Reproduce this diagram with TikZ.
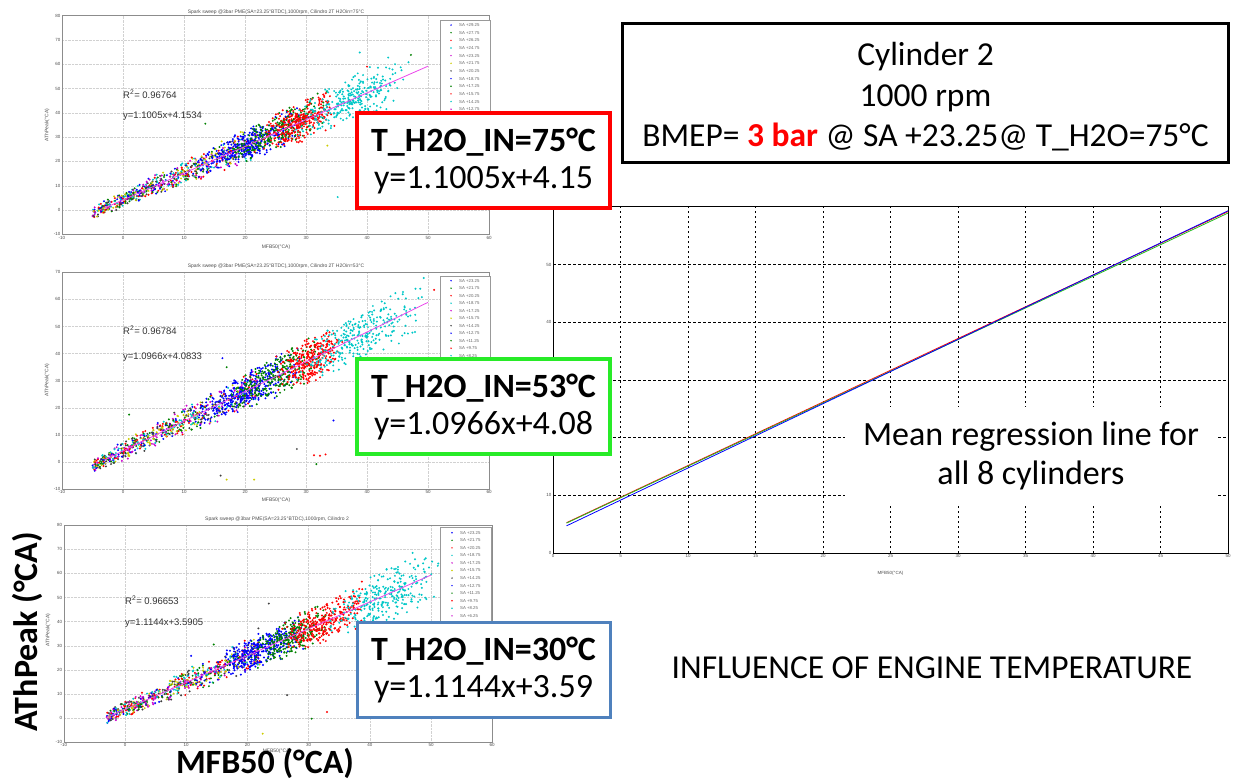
\documentclass[tikz,border=0pt]{standalone}
\usepackage{fontspec}
\setmainfont{Carlito}
\newfontfamily\plotfont{Liberation Sans}
\definecolor{mblue}{rgb}{0,0,1}
\definecolor{mgreen}{rgb}{0,0.5,0}
\definecolor{mred}{rgb}{1,0,0}
\definecolor{mcyan}{rgb}{0,0.78,0.78}
\definecolor{mmag}{rgb}{0.8,0,0.8}
\definecolor{myel}{rgb}{0.8,0.8,0}
\definecolor{mblack}{rgb}{0.25,0.25,0.25}
\definecolor{fitmag}{RGB}{235,70,235}
\definecolor{tred}{RGB}{255,0,0}
\definecolor{tgreen}{RGB}{40,235,40}
\definecolor{tblue}{RGB}{79,129,189}

\begin{document}
\begin{tikzpicture}[x=1pt,y=-1pt,
  axisframe/.style={draw=black!45,line width=0.6pt},
  smallgrid/.style={draw=black!18,line width=0.4pt,densely dotted},
  biggrid/.style={draw=black,line width=0.6pt,dash pattern=on 2.5pt off 2.5pt},
  ticklab/.style={font=\plotfont\fontsize{4.5}{5}\selectfont,text=black!70,inner sep=1.5pt},
  titlelab/.style={font=\plotfont\fontsize{5}{6}\selectfont,text=black!70,inner sep=0pt},
  fittext/.style={font=\plotfont\fontsize{9.5}{11}\selectfont,text=black!80,anchor=west,inner sep=0pt},
  legtext/.style={font=\plotfont\fontsize{4.3}{5}\selectfont,text=black!60,anchor=west,inner sep=0pt},
  legbox/.style={draw=black!40,fill=white,line width=0.5pt},
  tempbox/.style={fill=white,line width=3.5pt,minimum width=253pt,minimum height=95pt,
    align=center,inner sep=0pt,font=\fontsize{34}{37}\selectfont},
  bigtext/.style={align=center,inner sep=0pt,font=\fontsize{33.5}{40.5}\selectfont},
  biglabel/.style={inner sep=0pt,font=\bfseries\fontsize{34}{36}\selectfont}]
\useasboundingbox (0,0) rectangle (1236,781);

% ---- plot 1 : T_H2O_IN = 75
\begin{scope}[xshift=123pt,yshift=-210pt,x=6.1pt,y=2.43pt]
\foreach \gx in {0,10,...,50} \draw[smallgrid] (\gx,-10) -- (\gx,80);
\foreach \gy in {0,10,...,70} \draw[smallgrid] (-10,\gy) -- (60,\gy);
\draw[axisframe] (-10,-10) rectangle (60,80);
\foreach \gx [count=\i] in {-10,0,...,60} \node[ticklab,below] (ax\i) at (\gx,-10) {\gx};
\foreach \gy [count=\i] in {-10,0,...,80} \node[ticklab,left] (ay\i) at (-10,\gy) {\gy};
\pgfmathsetseed{75}
\foreach \k in {1,...,100}
  \foreach \col in {mblue,mgreen,mred,mcyan,mmag,myel,mblack} {
    \pgfmathsetmacro\px{-5+27*rnd}
    \pgfmathsetmacro\py{1.1005*\px+4.1534+(1.8+0.09*\px)*(rand+rand)}
    \fill[\col] (\px,\py) circle[radius=1.1pt];
  }
\foreach \col/\xa/\xb/\n in {mblue/15/27/300,mgreen/20/31/250,mred/25/33/300,mcyan/31/43/300} {
  \foreach \k in {1,...,\n} {
    \pgfmathsetmacro\px{(\xa+\xb)/2+0.4*(\xb-\xa)*(rand+rand)}
    \pgfmathsetmacro\py{1.1005*\px+4.1534+(1.8+0.09*\px)*(rand+rand)}
    \fill[\col] (\px,\py) circle[radius=1.1pt];
  }
}
\fill[mcyan] (35.2,5.3) circle[radius=1.1pt];
\fill[mgreen] (13.5,35.5) circle[radius=1.1pt];
\fill[myel] (33.5,26.5) circle[radius=1.1pt];
\fill[mred] (40,59) circle[radius=1.1pt];
\fill[mcyan] (38.8,64.8) circle[radius=1.1pt];
\fill[mgreen] (47.2,63.8) circle[radius=1.1pt];
\fill[mcyan] (46.8,60.8) circle[radius=1.1pt];
\draw[fitmag,line width=0.8pt] (-3,{1.1005*(-3)+4.1534}) -- (50,{1.1005*50+4.1534});
\node[fittext] (r1) at (0,47.8) {R\textsuperscript{2}= 0.96764};
\node[fittext] (f1) at (0,38.8) {y=1.1005x+4.1534};
\end{scope}
\node[titlelab] (title1) at (276,12) {Spark sweep @3bar PME(SA=23.25°BTDC),1000rpm, Cilindro 2T H2Oin=75°C};
\node[titlelab] (xlab1) at (276,247) {MFB50(°CA)};
\node[titlelab,rotate=90] (ylab1) at (47,125) {AThPeak(°CA)};
\draw[legbox] (440,20) rectangle (490,135);
\foreach \lab/\col [count=\i] in {29.25/mblue,27.75/mgreen,26.25/mred,24.75/mcyan,23.25/mmag,21.75/myel,
    20.25/mblack,18.75/mblue,17.25/mgreen,15.75/mred,14.25/mcyan,12.75/mmag,11.25/myel,9.75/mblack} {
  \fill[\col] (451,17.4+7.65*\i) circle[radius=0.8pt];
  \node[legtext] (leg1\i) at (459,17.4+7.65*\i) {SA +\lab};
}

% ---- plot 2 : T_H2O_IN = 53
\begin{scope}[xshift=123pt,yshift=-462pt,x=6.1pt,y=2.71pt]
\foreach \gx in {0,10,...,50} \draw[smallgrid] (\gx,-10) -- (\gx,70);
\foreach \gy in {0,10,...,60} \draw[smallgrid] (-10,\gy) -- (60,\gy);
\draw[axisframe] (-10,-10) rectangle (60,70);
\foreach \gx [count=\i] in {-10,0,...,60} \node[ticklab,below] (bx\i) at (\gx,-10) {\gx};
\foreach \gy [count=\i] in {-10,0,...,70} \node[ticklab,left] (by\i) at (-10,\gy) {\gy};
\pgfmathsetseed{53}
\foreach \k in {1,...,100}
  \foreach \col in {mblue,mgreen,mred,mcyan,mmag,myel,mblack} {
    \pgfmathsetmacro\px{-5+27*rnd}
    \pgfmathsetmacro\py{1.0966*\px+4.0833+(1.8+0.09*\px)*(rand+rand)}
    \fill[\col] (\px,\py) circle[radius=1.1pt];
  }
\foreach \col/\xa/\xb/\n in {mblue/15/26/300,mgreen/20/30/250,mred/27/34/300,mcyan/32/46/300} {
  \foreach \k in {1,...,\n} {
    \pgfmathsetmacro\px{(\xa+\xb)/2+0.4*(\xb-\xa)*(rand+rand)}
    \pgfmathsetmacro\py{1.0966*\px+4.0833+(1.8+0.09*\px)*(rand+rand)}
    \fill[\col] (\px,\py) circle[radius=1.1pt];
  }
}
\fill[mblack] (28.5,4.8) circle[radius=1.1pt];
\fill[mred] (31.3,2.5) circle[radius=1.1pt];
\fill[mred] (32.3,2.3) circle[radius=1.1pt];
\fill[mred] (33.2,2.8) circle[radius=1.1pt];
\fill[mgreen] (31.7,-0.8) circle[radius=1.1pt];
\fill[mblack] (16,-5) circle[radius=1.1pt];
\fill[myel] (17,-6.5) circle[radius=1.1pt];
\fill[myel] (21.5,-6.5) circle[radius=1.1pt];
\fill[mblue] (34.5,15.3) circle[radius=1.1pt];
\fill[mblue] (16.3,38.3) circle[radius=1.1pt];
\fill[mred] (51,63.5) circle[radius=1.1pt];
\fill[mgreen] (1,17.5) circle[radius=1.1pt];
\fill[mgreen] (17,35) circle[radius=1.1pt];
\draw[fitmag,line width=0.8pt] (-3,{1.0966*(-3)+4.0833}) -- (50,{1.0966*50+4.0833});
\node[fittext] (r2) at (0,48.6) {R\textsuperscript{2}= 0.96784};
\node[fittext] (f2) at (0,38.8) {y=1.0966x+4.0833};
\end{scope}
\node[titlelab] (title2) at (276,266) {Spark sweep @3bar PME(SA=23.25°BTDC),1000rpm, Cilindro 2T H2Oin=53°C};
\node[titlelab] (xlab2) at (276,500) {MFB50(°CA)};
\node[titlelab,rotate=90] (ylab2) at (47,380) {AThPeak(°CA)};
\draw[legbox] (440,276) rectangle (490,380);
\foreach \lab/\col [count=\i] in {23.25/mblue,21.75/mgreen,20.25/mred,18.75/mcyan,17.25/mmag,15.75/myel,
    14.25/mblack,12.75/mblue,11.25/mgreen,9.75/mred,8.25/mcyan,6.75/mmag} {
  \fill[\col] (451,273.2+7.5*\i) circle[radius=0.8pt];
  \node[legtext] (leg2\i) at (459,273.2+7.5*\i) {SA +\lab};
}

% ---- plot 3 : T_H2O_IN = 30
\begin{scope}[xshift=125pt,yshift=-718pt,x=6.12pt,y=2.41pt]
\foreach \gx in {0,10,...,50} \draw[smallgrid] (\gx,-10) -- (\gx,80);
\foreach \gy in {0,10,...,70} \draw[smallgrid] (-10,\gy) -- (60,\gy);
\draw[axisframe] (-10,-10) rectangle (60,80);
\foreach \gx [count=\i] in {-10,0,...,60} \node[ticklab,below] (cx\i) at (\gx,-10) {\gx};
\foreach \gy [count=\i] in {-10,0,...,80} \node[ticklab,left] (cy\i) at (-10,\gy) {\gy};
\pgfmathsetseed{30}
\foreach \k in {1,...,100}
  \foreach \col in {mblue,mgreen,mred,mcyan,mmag,myel,mblack} {
    \pgfmathsetmacro\px{-3+25*rnd}
    \pgfmathsetmacro\py{1.1144*\px+3.5905+(1.8+0.09*\px)*(rand+rand)}
    \fill[\col] (\px,\py) circle[radius=1.1pt];
  }
\foreach \col/\xa/\xb/\n in {mblue/18/27/300,mgreen/23/31/250,mred/28/37/300,mcyan/36/48/300} {
  \foreach \k in {1,...,\n} {
    \pgfmathsetmacro\px{(\xa+\xb)/2+0.4*(\xb-\xa)*(rand+rand)}
    \pgfmathsetmacro\py{1.1144*\px+3.5905+(1.8+0.09*\px)*(rand+rand)}
    \fill[\col] (\px,\py) circle[radius=1.1pt];
  }
}
\fill[mblack] (23.5,47.5) circle[radius=1.1pt];
\fill[mblack] (26.5,9.5) circle[radius=1.1pt];
\fill[mgreen] (30.5,-0.3) circle[radius=1.1pt];
\fill[mred] (33,2.5) circle[radius=1.1pt];
\fill[myel] (22.5,-6.5) circle[radius=1.1pt];
\fill[mblack] (21.8,37.2) circle[radius=1.1pt];
\fill[mgreen] (14.5,30.5) circle[radius=1.1pt];
\fill[mblue] (10.8,25.8) circle[radius=1.1pt];
\fill[mcyan] (47,68.5) circle[radius=1.1pt];
\draw[fitmag,line width=0.8pt] (-3,{1.1144*(-3)+3.5905}) -- (50,{1.1144*50+3.5905});
\node[fittext] (r3) at (0,48.8) {R\textsuperscript{2}= 0.96653};
\node[fittext] (f3) at (0,39.4) {y=1.1144x+3.5905};
\end{scope}
\node[titlelab] (title3) at (277,519) {Spark sweep @3bar PME(SA=23.25°BTDC),1000rpm, Cilindro 2};
\node[titlelab] (xlab3) at (277,751) {MFB50(°CA)};
\node[titlelab,rotate=90] (ylab3) at (48,630) {AThPeak(°CA)};
\draw[legbox] (440,527) rectangle (491,640);
\foreach \lab/\col [count=\i] in {23.25/mblue,21.75/mgreen,20.25/mred,18.75/mcyan,17.25/mmag,15.75/myel,
    14.25/mblack,12.75/mblue,11.25/mgreen,9.75/mred,8.25/mcyan,6.25/mmag,4.75/myel} {
  \fill[\col] (452,525.2+7.55*\i) circle[radius=0.8pt];
  \node[legtext] (leg3\i) at (460,525.2+7.55*\i) {SA +\lab};
}

% ---- mean regression lines of all cylinders
\begin{scope}[xshift=553pt,yshift=-553pt,x=13.5pt,y=5.77pt]
\foreach \gx in {5,10,...,45} \draw[biggrid] (\gx,0) -- (\gx,60);
\foreach \gy in {10,20,...,50} \draw[biggrid] (0,\gy) -- (50,\gy);
\draw[line width=0.7pt] (0,0) rectangle (50,60);
\foreach \gx in {0,5,...,50} \node[ticklab,below] (mx\gx) at (\gx,0) {\gx};
\foreach \gy in {0,10,40,50} \node[ticklab,left] (my\gy) at (0,\gy) {\gy};
\node[ticklab] (mxlab) at (25,-3.5) {MFB50(°CA)};
\draw[mred,line width=0.8pt] (1,5.2539) -- (50,59.1784);
\draw[tgreen!80!black,line width=0.8pt] (1,5.1799) -- (50,58.9133);
\draw[mblue,line width=0.8pt] (1,4.7049) -- (50,59.3105);
\end{scope}
\node[bigtext,fill=white,minimum width=372pt,minimum height=98pt,font=\fontsize{34}{39}\selectfont]
  (meanlab) at (1031,456) {Mean regression line for\\all 8 cylinders};

% ---- operating point
\node[draw,fill=white,line width=3pt,minimum width=606pt,minimum height=139pt] (cyl) at (925.5,93) {};
\node[bigtext] (cyltext) at (925.5,97)
  {Cylinder 2\\1000 rpm\\BMEP= \textcolor{tred}{\textbf{3 bar}} @ SA +23.25@ T\_H2O=75°C};

% ---- coolant temperature boxes
\node[tempbox,draw=tred] (t75) at (483.5,160.5) {\textbf{T\_H2O\_IN=75°C}\\y=1.1005x+4.15};
\node[tempbox,draw=tgreen] (t53) at (483.5,406.5) {\textbf{T\_H2O\_IN=53°C}\\y=1.0966x+4.08};
\node[tempbox,draw=tblue,line width=3pt] (t30) at (483.5,669.5) {\textbf{T\_H2O\_IN=30°C}\\y=1.1144x+3.59};

\node[bigtext] (infl) at (932,668) {INFLUENCE OF ENGINE TEMPERATURE};

% ---- axis names
\node[biglabel] (bigx) at (265,763) {MFB50 (°CA)};
\node[biglabel,rotate=90] (bigy) at (27,632) {AThPeak (°CA)};
\end{tikzpicture}
\end{document}
